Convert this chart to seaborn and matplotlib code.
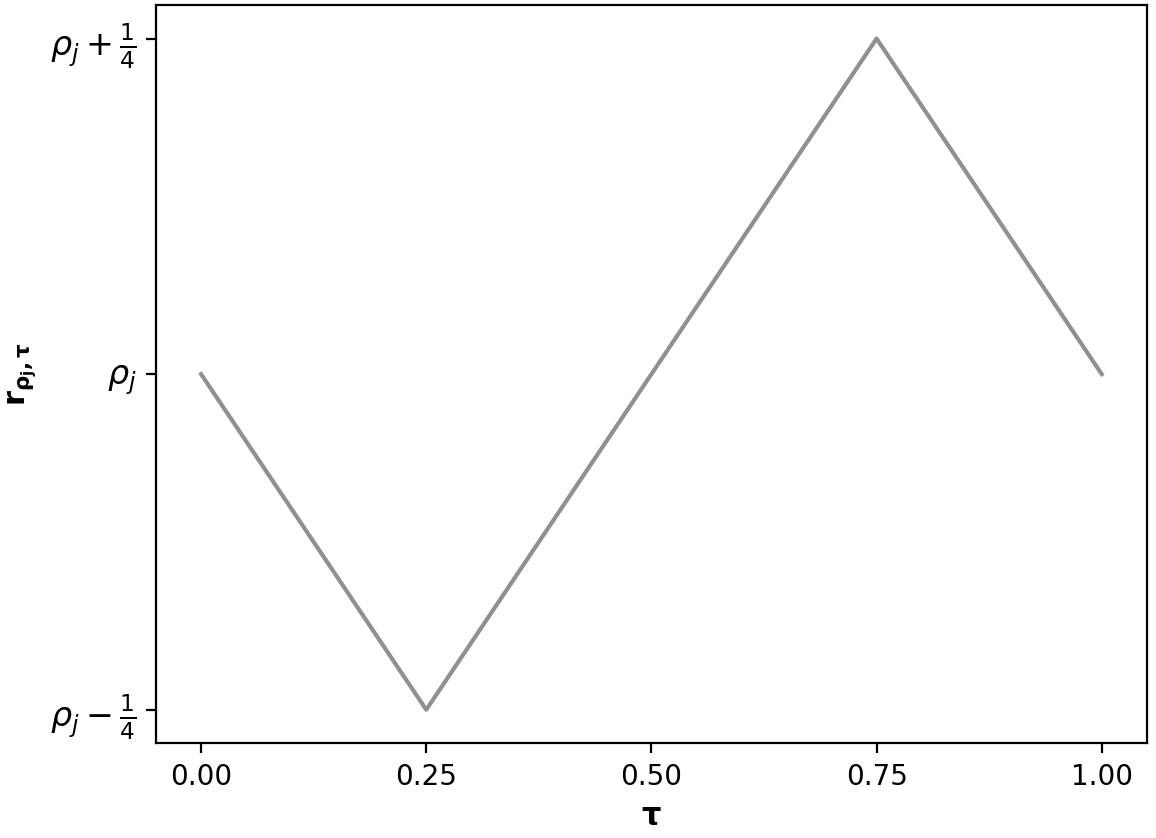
import matplotlib
matplotlib.use("Agg")
import matplotlib.pyplot as plt
import seaborn as sns
import pandas as pd

# knots of the triangle wave (tau, offset from rho_j)
tau = [0.0, 0.25, 0.75, 1.0]
r_offset = [0.0, -0.25, 0.25, 0.0]
ytick_vals = [-0.25, 0.0, 0.25]
ytick_labels = [r"$\rho_j - \frac{1}{4}$", r"$\rho_j$", r"$\rho_j + \frac{1}{4}$"]
xtick_vals = [0.0, 0.25, 0.5, 0.75, 1.0]

df = pd.DataFrame({"tau": tau, "r": r_offset})

fig, ax = plt.subplots(figsize=(5.78, 4.19), dpi=200)
sns.lineplot(data=df, x="tau", y="r", color="#909090", linewidth=1.5, ax=ax)

ax.set_xticks(xtick_vals)
ax.set_xticklabels([f"{v:.2f}" for v in xtick_vals], fontsize=10)
ax.set_yticks(ytick_vals)
ax.set_yticklabels(ytick_labels, fontsize=12)
ax.set_xlabel(r"$\mathbf{\tau}$", fontsize=11)
ax.set_ylabel(r"$\mathbf{r_{\rho_j,\tau}}$", fontsize=11)
ax.yaxis.set_label_coords(-0.118, 0.5)

fig.subplots_adjust(left=0.135, right=0.992, top=0.994, bottom=0.113)
fig.savefig("out.png", dpi=200)
